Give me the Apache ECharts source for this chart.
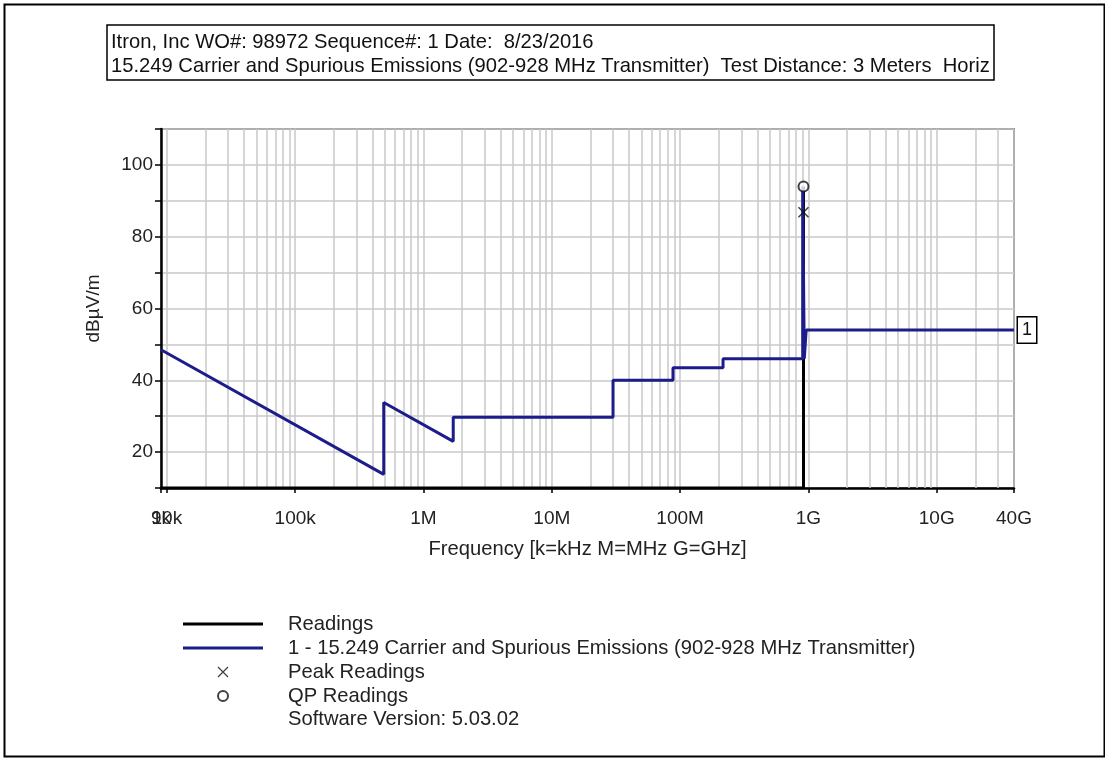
<!DOCTYPE html>
<html><head><meta charset="utf-8">
<script src="https://cdn.jsdelivr.net/npm/echarts@6/dist/echarts.min.js"></script>
<style>html,body{margin:0;padding:0;background:#fff}#c{width:1105px;height:758px}</style>
</head><body><div id="c"></div>
<script>
// ---- data ----
const limitFreq  = [9e3, 490e3, 490e3, 1.705e6, 1.705e6, 30e6, 30e6, 88e6, 88e6, 216e6, 216e6, 902e6, 902e6, 928e6, 928e6, 960e6, 960e6, 40e9];
const limitLevel = [48.5, 13.8, 33.8, 23.0, 29.7, 29.7, 40.0, 40.0, 43.5, 43.5, 46.0, 46.0, 94.0, 94.0, 46.0, 46.0, 54.0, 54.0];
const readingsFreq  = [9e3, 915e6, 915e6];
const readingsLevel = [10, 10, 94];
const peakFreq  = [915e6];
const peakLevel = [86.8];
const qpFreq  = [915e6];
const qpLevel = [94.0];
const xTickValues = [9e3, 1e4, 1e5, 1e6, 1e7, 1e8, 1e9, 1e10, 4e10];
const xTickLabels = ['9k', '10k', '100k', '1M', '10M', '100M', '1G', '10G', '40G'];
const yLabelValues = [20, 40, 60, 80, 100];
const titleLines = ['Itron, Inc WO#: 98972 Sequence#: 1 Date:  8/23/2016',
  '15.249 Carrier and Spurious Emissions (902-928 MHz Transmitter)  Test Distance: 3 Meters  Horiz'];
const limitName = '1 - 15.249 Carrier and Spurious Emissions (902-928 MHz Transmitter)';
const softwareText = 'Software Version: 5.03.02';

// minor log grid lines (2..9 x each decade)
const minorGrid = [];
for (let d = 1e3; d <= 1e10; d *= 10) {
  for (let m = 2; m <= 9; m++) {
    const v = d * m;
    if (v > 9e3 && v < 4e10) minorGrid.push({ xAxis: v });
  }
}

const FONT = 'Liberation Sans';
const NAVY = '#1c1c8a';
const GRID = '#c8c8c8';
const LINE_ICON = 'path://M0,0L80,0L80,3L0,3Z';
const X_ICON = 'path://M0,0L10,10M10,0L0,10';
const zip = (a, b) => a.map((v, i) => [v, b[i]]);
const labelFor = (v, only) => {
  for (let i = 0; i < xTickValues.length; i++) {
    if (Math.abs(Math.log10(v) - Math.log10(xTickValues[i])) < 1e-6) {
      const t = xTickLabels[i];
      if (only) return t === only ? t : '';
      return t === '10k' ? '' : t;
    }
  }
  return '';
};

const baseX = {
  type: 'log', logBase: 10, min: 9e3, max: 4e10, gridIndex: 0, position: 'bottom'
};

const chart = echarts.init(document.getElementById('c'), null, { renderer: 'canvas' });
chart.setOption({
  animation: false,
  backgroundColor: '#fff',
  textStyle: { fontFamily: FONT },
  title: {
    text: titleLines.join('\n'),
    left: 107, top: 25,
    padding: [6, 4, 2, 4],
    borderColor: '#000', borderWidth: 1.5,
    textStyle: { fontFamily: FONT, fontSize: 20.2, fontWeight: 'normal', color: '#111', lineHeight: 23.5 }
  },
  grid: {
    left: 161, right: 91, top: 129, bottom: 270,
    show: true, borderColor: '#333', borderWidth: 1.5, backgroundColor: 'transparent'
  },
  xAxis: [
    Object.assign({}, baseX, {
      name: 'Frequency [k=kHz M=MHz G=GHz]', nameLocation: 'middle', nameGap: 51,
      nameTextStyle: { fontFamily: FONT, fontSize: 20.2, color: '#222' },
      axisLine: { lineStyle: { color: '#000', width: 2.5 } },
      axisTick: { show: true, interval: 0, length: 5, lineStyle: { color: '#000', width: 1.5 } },
      axisLabel: {
        fontFamily: FONT, fontSize: 19, color: '#222', margin: 21, hideOverlap: false, interval: 0,
        showMinLabel: true, showMaxLabel: true,
        formatter: v => labelFor(v)
      },
      splitLine: { show: true, interval: 0, lineStyle: { color: GRID, width: 1.5 } }
    }),
    Object.assign({}, baseX, {
      axisLine: { show: false }, axisTick: { show: false }, splitLine: { show: false },
      axisLabel: {
        fontFamily: FONT, fontSize: 19, color: '#222', margin: 21, hideOverlap: false, interval: 0,
        showMinLabel: true, showMaxLabel: true,
        formatter: v => labelFor(v, '10k')
      }
    })
  ],
  yAxis: {
    type: 'value', min: 10, max: 110, interval: 10,
    name: 'dBµV/m', nameLocation: 'middle', nameGap: 58, nameRotate: 90,
    nameTextStyle: { fontFamily: FONT, fontSize: 19, color: '#222' },
    axisLine: { show: true, lineStyle: { color: '#000', width: 2.5 } },
    axisTick: { show: true, length: 6, lineStyle: { color: '#000', width: 1.5 } },
    axisLabel: {
      fontFamily: FONT, fontSize: 19, color: '#222', margin: 8,
      formatter: v => (yLabelValues.indexOf(v) >= 0 ? String(v) : '')
    },
    splitLine: { show: true, lineStyle: { color: GRID, width: 1.5 } }
  },
  legend: {
    orient: 'vertical', left: 183, top: 613, padding: 0,
    itemWidth: 80, itemHeight: 10, itemGap: 2,
    textStyle: { fontFamily: FONT, fontSize: 20.2, color: '#222', lineHeight: 22, padding: [0, 0, 0, 20] },
    data: [
      { name: 'Readings', icon: LINE_ICON },
      { name: limitName, icon: LINE_ICON },
      { name: 'Peak Readings', icon: X_ICON, itemStyle: { color: 'none', borderColor: '#111', borderWidth: 1.3 } },
      { name: 'QP Readings', icon: 'emptyCircle', itemStyle: { color: '#111', borderColor: '#111', borderWidth: 1.5 } }
    ]
  },
  series: [
    {
      name: 'minor-grid', type: 'line', data: [], silent: true, z: 1,
      markLine: {
        silent: true, symbol: 'none', animation: false, z: 1,
        label: { show: false },
        lineStyle: { color: GRID, width: 1.5, type: 'solid' },
        data: minorGrid
      }
    },
    {
      name: 'Readings', type: 'line', data: zip(readingsFreq, readingsLevel),
      symbol: 'none', lineStyle: { color: '#000', width: 3 }, itemStyle: { color: '#000' }, z: 3
    },
    {
      name: limitName, type: 'line', data: zip(limitFreq, limitLevel),
      symbol: 'none', lineStyle: { color: NAVY, width: 3 }, itemStyle: { color: NAVY }, z: 4,
      endLabel: {
        show: true, formatter: '1', distance: 4,
        fontFamily: FONT, fontSize: 18, color: '#111',
        backgroundColor: '#fff', borderColor: '#000', borderWidth: 1.5, padding: [4, 4, 3, 4]
      }
    },
    {
      name: 'Peak Readings', type: 'scatter', data: zip(peakFreq, peakLevel),
      symbol: X_ICON, symbolSize: 10,
      itemStyle: { color: 'none', borderColor: '#111', borderWidth: 1.5 }, z: 5
    },
    {
      name: 'QP Readings', type: 'scatter', data: zip(qpFreq, qpLevel),
      symbol: 'emptyCircle', symbolSize: 10,
      itemStyle: { color: '#111', borderColor: '#111', borderWidth: 1.5 }, z: 5
    }
  ],
  graphic: [
    { type: 'rect', left: 2, top: 2, shape: { width: 1100, height: 752 },
      style: { fill: 'none', stroke: '#000', lineWidth: 2 }, silent: true },
    { type: 'text', left: 288, top: 709,
      style: { text: softwareText, font: '20.2px "Liberation Sans"', fill: '#222' } }
  ]
});
</script>
</body></html>
